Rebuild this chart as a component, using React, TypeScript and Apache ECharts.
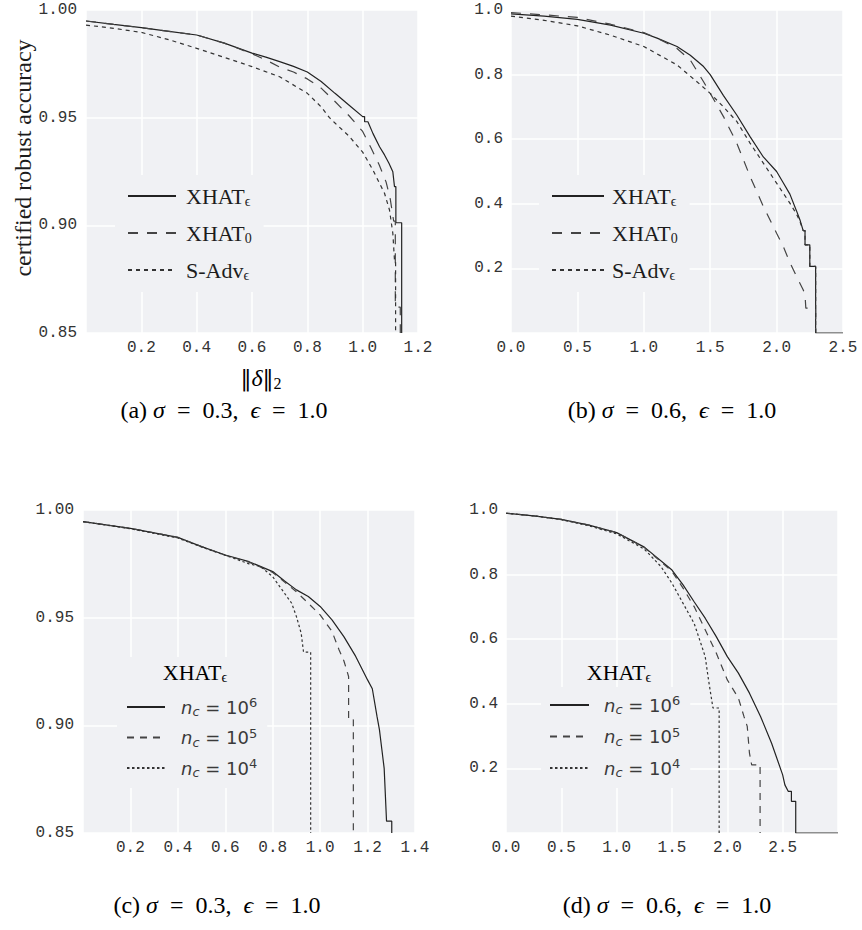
import React, { useEffect, useRef } from "react";
import * as echarts from "echarts";

const SERIF = '"Liberation Serif", "DejaVu Serif", serif';
const MONO = '"Liberation Mono", "DejaVu Sans Mono", monospace';
const SANS = '"DejaVu Sans", "Noto Sans", sans-serif';

// ---------- Panel (a): sigma = 0.3 ----------
const a_xhatEps: [number, number][] = [
  [0, 0.9949], [0.1, 0.9933], [0.2, 0.9918], [0.3, 0.9901], [0.4, 0.9884], [0.5, 0.9846],
  [0.6, 0.98], [0.65, 0.9781], [0.7, 0.976], [0.75, 0.9738], [0.8, 0.9712], [0.85, 0.9668],
  [0.9, 0.9613], [0.95, 0.9559], [1.0, 0.9505], [1.007, 0.9505], [1.007, 0.9481], [1.019, 0.9481],
  [1.037, 0.9427], [1.061, 0.9365], [1.079, 0.9327], [1.095, 0.9288], [1.109, 0.9249],
  [1.115, 0.918], [1.12, 0.918], [1.12, 0.9012], [1.141, 0.9012], [1.141, 0.85],
];
const a_xhat0: [number, number][] = [
  [0, 0.9949], [0.1, 0.9933], [0.2, 0.9918], [0.3, 0.9901], [0.4, 0.9884], [0.5, 0.9846],
  [0.6, 0.9797], [0.65, 0.9768], [0.7, 0.9735], [0.75, 0.9712], [0.8, 0.968], [0.85, 0.9637],
  [0.9, 0.9575], [0.95, 0.951], [1.0, 0.9436], [1.03, 0.936], [1.06, 0.928], [1.085, 0.92],
  [1.1, 0.912], [1.112, 0.902], [1.118, 0.902], [1.118, 0.862], [1.136, 0.862], [1.136, 0.85],
];
const a_sadvEps: [number, number][] = [
  [0, 0.993], [0.1, 0.9915], [0.2, 0.9896], [0.3, 0.9862], [0.4, 0.9822], [0.5, 0.978],
  [0.6, 0.9737], [0.7, 0.969], [0.8, 0.9613], [0.85, 0.955], [0.88, 0.95], [0.9, 0.9475],
  [0.95, 0.9415], [1.0, 0.934], [1.037, 0.9257], [1.061, 0.9195], [1.079, 0.9149],
  [1.097, 0.9071], [1.109, 0.8963], [1.115, 0.8839], [1.119, 0.8839], [1.119, 0.85],
];

// ---------- Panel (b): sigma = 0.6 ----------
const b_xhatEps: [number, number][] = [
  [0, 0.988], [0.25, 0.981], [0.5, 0.971], [0.75, 0.953], [1.0, 0.928], [1.1, 0.913],
  [1.25, 0.887], [1.35, 0.86], [1.45, 0.825], [1.5, 0.8], [1.6, 0.735], [1.7, 0.675],
  [1.8, 0.608], [1.9, 0.545], [2.0, 0.5], [2.05, 0.465], [2.1, 0.43], [2.15, 0.378],
  [2.176, 0.35], [2.2, 0.317], [2.214, 0.317], [2.214, 0.273], [2.25, 0.273], [2.25, 0.206],
  [2.294, 0.206], [2.294, 0], [2.5, 0],
];
const b_xhat0: [number, number][] = [
  [0, 0.992], [0.25, 0.985], [0.5, 0.977], [0.75, 0.956], [1.0, 0.93], [1.1, 0.913],
  [1.25, 0.881], [1.35, 0.845], [1.45, 0.778], [1.5, 0.742], [1.6, 0.67], [1.7, 0.588],
  [1.8, 0.485], [1.9, 0.392], [2.0, 0.309], [2.05, 0.268], [2.1, 0.218], [2.15, 0.175],
  [2.2, 0.134], [2.214, 0.12], [2.22, 0.077], [2.294, 0.077], [2.294, 0],
];
const b_sadvEps: [number, number][] = [
  [0, 0.981], [0.25, 0.968], [0.5, 0.951], [0.75, 0.922], [1.0, 0.887], [1.25, 0.83],
  [1.4, 0.778], [1.5, 0.742], [1.6, 0.7], [1.7, 0.655], [1.8, 0.588], [1.9, 0.526],
  [2.0, 0.464], [2.1, 0.402], [2.15, 0.368], [2.176, 0.345], [2.2, 0.317], [2.214, 0.317],
  [2.214, 0.273], [2.25, 0.273], [2.25, 0.206], [2.294, 0.206], [2.294, 0],
];

// ---------- Panel (c): sigma = 0.3, different n_c ----------
const c_nc6: [number, number][] = [
  [0, 0.9946], [0.2, 0.9915], [0.4, 0.9873], [0.5, 0.983], [0.6, 0.9791], [0.7, 0.976],
  [0.8, 0.9714], [0.85, 0.967], [0.9, 0.9629], [0.95, 0.9598], [1.0, 0.9552], [1.05, 0.949],
  [1.1, 0.9412], [1.15, 0.932], [1.2, 0.9211], [1.22, 0.917], [1.24, 0.904], [1.25, 0.898],
  [1.26, 0.889], [1.27, 0.88], [1.28, 0.8555], [1.302, 0.8555], [1.302, 0.85],
];
const c_nc5: [number, number][] = [
  [0, 0.9946], [0.2, 0.9915], [0.4, 0.9873], [0.5, 0.983], [0.6, 0.979], [0.7, 0.9758],
  [0.8, 0.971], [0.85, 0.9665], [0.9, 0.962], [0.95, 0.9567], [1.0, 0.9513], [1.05, 0.9436],
  [1.08, 0.935], [1.1, 0.93], [1.12, 0.9227], [1.12, 0.9026], [1.14, 0.9026], [1.14, 0.85],
];
const c_nc4: [number, number][] = [
  [0, 0.9946], [0.2, 0.9913], [0.4, 0.987], [0.5, 0.9828], [0.6, 0.979], [0.7, 0.975],
  [0.75, 0.9737], [0.8, 0.969], [0.85, 0.9613], [0.88, 0.9567], [0.9, 0.9505], [0.92, 0.9428],
  [0.93, 0.934], [0.96, 0.934], [0.96, 0.85],
];

// ---------- Panel (d): sigma = 0.6, different n_c ----------
const d_nc6: [number, number][] = [
  [0, 0.99], [0.25, 0.982], [0.5, 0.971], [0.75, 0.953], [1.0, 0.93], [1.25, 0.885],
  [1.5, 0.814], [1.6, 0.768], [1.7, 0.716], [1.8, 0.665], [1.9, 0.608], [2.0, 0.546],
  [2.1, 0.495], [2.2, 0.433], [2.3, 0.361], [2.4, 0.278], [2.5, 0.18], [2.52, 0.149],
  [2.55, 0.129], [2.579, 0.129], [2.579, 0.098], [2.618, 0.098], [2.618, 0], [3.0, 0],
];
const d_nc5: [number, number][] = [
  [0, 0.99], [0.25, 0.982], [0.5, 0.971], [0.75, 0.953], [1.0, 0.93], [1.25, 0.884],
  [1.5, 0.81], [1.6, 0.758], [1.7, 0.701], [1.8, 0.629], [1.9, 0.557], [2.0, 0.474],
  [2.1, 0.418], [2.15, 0.361], [2.18, 0.33], [2.2, 0.247], [2.22, 0.211], [2.296, 0.211],
  [2.296, 0],
];
const d_nc4: [number, number][] = [
  [0, 0.99], [0.25, 0.982], [0.5, 0.97], [0.75, 0.951], [1.0, 0.926], [1.25, 0.879],
  [1.4, 0.825], [1.5, 0.773], [1.6, 0.711], [1.7, 0.649], [1.75, 0.598], [1.8, 0.546],
  [1.83, 0.474], [1.87, 0.387], [1.926, 0.387], [1.926, 0],
];

const topNames = ["XHATϵ", "XHAT0", "S-Advϵ"];
const bottomNames = ["n_c = 10^6", "n_c = 10^5", "n_c = 10^4"];
const captions = ["(a)", "(b)", "(c)", "(d)"];
const sigmas = ["0.3", "0.6", "0.3", "0.6"];

const PLOT_BG = "#f0f1f4";
const TEXT = "#1c1c1c";

export default function App() {
  const ref = useRef<HTMLDivElement>(null);
  useEffect(() => {
    const chart = echarts.init(ref.current!, null, { renderer: "svg" });

    const grids = [
      { left: 86, top: 10, width: 332, height: 323 },
      { left: 511, top: 10, width: 332, height: 323 },
      { left: 83, top: 510, width: 332, height: 323 },
      { left: 506, top: 510, width: 332, height: 323 },
    ].map((g) => ({ ...g, show: true, backgroundColor: PLOT_BG, borderWidth: 0, containLabel: false, outerBoundsMode: "none" }));

    const axisLabel = (digits: number, extra: any = {}) => ({
      fontFamily: MONO,
      fontSize: 16,
      color: "#333",
      margin: 7,
      formatter: (v: number) => v.toFixed(digits),
      ...extra,
    });
    const common = {
      type: "value",
      axisLine: { show: false },
      axisTick: { show: false },
      splitLine: { show: true, lineStyle: { color: "#ffffff", width: 1.5 } },
    };

    const xAxes = [
      { ...common, gridIndex: 0, min: 0, max: 1.2, interval: 0.2, axisLabel: axisLabel(1, { showMinLabel: false }) },
      { ...common, gridIndex: 1, min: 0, max: 2.5, interval: 0.5, axisLabel: axisLabel(1) },
      { ...common, gridIndex: 2, min: 0, max: 1.4, interval: 0.2, axisLabel: axisLabel(1, { showMinLabel: false }) },
      { ...common, gridIndex: 3, min: 0, max: 3, interval: 0.5, axisLabel: axisLabel(1, { showMaxLabel: false }) },
    ];
    const yAxes = [
      { ...common, gridIndex: 0, min: 0.85, max: 1.0, interval: 0.05, axisLabel: axisLabel(2, { margin: 9 }) },
      { ...common, gridIndex: 1, min: 0, max: 1.0, interval: 0.2, axisLabel: axisLabel(1, { showMinLabel: false, margin: 8 }) },
      { ...common, gridIndex: 2, min: 0.85, max: 1.0, interval: 0.05, axisLabel: axisLabel(2, { margin: 9 }) },
      { ...common, gridIndex: 3, min: 0, max: 1.0, interval: 0.2, axisLabel: axisLabel(1, { showMinLabel: false, margin: 8 }) },
    ];

    const mk = (name: string, data: [number, number][], idx: number, type: any, color: string) => ({
      type: "line",
      name,
      data,
      xAxisIndex: idx,
      yAxisIndex: idx,
      symbol: "none",
      showSymbol: false,
      silent: true,
      lineStyle: { color, width: 1.2, type },
      itemStyle: { color },
      emphasis: { disabled: true },
      z: 3,
    });

    const DASH_T = [10, 9];
    const DOT_T = [4, 4];
    const DASH_B = [7, 6];
    const DOT_B = [2.5, 2.5];

    const series = [
      mk(topNames[0], a_xhatEps, 0, "solid", "#222"),
      mk(topNames[1], a_xhat0, 0, DASH_T, "#444"),
      mk(topNames[2], a_sadvEps, 0, DOT_T, "#333"),
      mk(topNames[0], b_xhatEps, 1, "solid", "#222"),
      mk(topNames[1], b_xhat0, 1, DASH_T, "#444"),
      mk(topNames[2], b_sadvEps, 1, DOT_T, "#333"),
      mk(bottomNames[0], c_nc6, 2, "solid", "#222"),
      mk(bottomNames[1], c_nc5, 2, DASH_B, "#444"),
      mk(bottomNames[2], c_nc4, 2, DOT_B, "#333"),
      mk(bottomNames[0], d_nc6, 3, "solid", "#222"),
      mk(bottomNames[1], d_nc5, 3, DASH_B, "#444"),
      mk(bottomNames[2], d_nc4, 3, DOT_B, "#333"),
    ];

    const topFmt = (name: string) =>
      name === topNames[0] ? "{m|XHAT}{s|ϵ}" : name === topNames[1] ? "{m|XHAT}{s|0}" : "{m|S-Adv}{s|ϵ}";
    const bottomFmt = (name: string) => `{n|n}{c|c}{r| = 10}{p|${name.slice(-1)}}`;

    const topRich = (pad: number) => ({
      m: { fontFamily: SERIF, fontSize: 22, color: TEXT, lineHeight: 24, padding: [0, 0, 0, pad] },
      s: { fontFamily: SERIF, fontSize: 14, color: TEXT, lineHeight: 12, verticalAlign: "bottom" },
    });
    const bottomRich = (pad: number) => ({
      n: { fontFamily: SANS, fontStyle: "italic", fontSize: 18, color: "#3a3a3a", lineHeight: 22, padding: [0, 0, 0, pad] },
      c: { fontFamily: SANS, fontStyle: "italic", fontSize: 13, color: "#3a3a3a", lineHeight: 12, verticalAlign: "bottom" },
      r: { fontFamily: SANS, fontSize: 18, color: "#3a3a3a", lineHeight: 22 },
      p: { fontFamily: SANS, fontSize: 13, color: "#3a3a3a", lineHeight: 12, verticalAlign: "top" },
    });

    const legendBase = {
      orient: "vertical",
      selectedMode: false,
      backgroundColor: PLOT_BG,
      itemHeight: 14,
      itemStyle: { opacity: 0, borderWidth: 0 },
      z: 5,
    };

    const legends = [
      { ...legendBase, data: topNames, left: 115, top: 175, padding: [10, 12, 10, 12], itemWidth: 48, itemGap: 14, formatter: topFmt, textStyle: { rich: topRich(5) } },
      { ...legendBase, data: topNames, left: 539, top: 175, padding: [10, 12, 10, 12], itemWidth: 52, itemGap: 14, formatter: topFmt, textStyle: { rich: topRich(3) } },
      { ...legendBase, data: bottomNames, left: 117, top: 657, padding: [39, 10, 9, 9], itemWidth: 38, itemGap: 8.5, formatter: bottomFmt, textStyle: { rich: bottomRich(11) } },
      { ...legendBase, data: bottomNames, left: 541, top: 687, padding: [7, 10, 9, 8], itemWidth: 39, itemGap: 9.5, formatter: bottomFmt, textStyle: { rich: bottomRich(10) } },
    ];

    const capRich = {
      r: { fontFamily: SERIF, fontSize: 24, color: TEXT },
      i: { fontFamily: SERIF, fontStyle: "italic", fontSize: 24, color: TEXT },
    };
    const capText = (k: number) =>
      `{r|${captions[k]} }{i|σ}{r|\u2002=\u2002${sigmas[k]},\u2002}{i|ϵ}{r|\u2002=\u20021.0}`;
    const capPos = [
      [224, 410],
      [672, 410],
      [217, 905],
      [667, 905],
    ];

    const graphic: any[] = capPos.map((p, k) => ({
      type: "text",
      x: p[0],
      y: p[1],
      z: 100,
      silent: true,
      style: { text: capText(k), rich: capRich, align: "center", verticalAlign: "middle" },
    }));
    graphic.push({
      type: "text",
      x: 23,
      y: 158,
      rotation: Math.PI / 2,
      z: 100,
      silent: true,
      style: { text: "certified robust accuracy", fontFamily: SERIF, fontSize: 24, fill: TEXT, align: "center", verticalAlign: "middle" },
    });
    graphic.push({
      type: "text",
      x: 261,
      y: 378,
      z: 100,
      silent: true,
      style: {
        text: "{b|‖}{i|δ}{b|‖}{s|2}",
        rich: {
          b: { fontFamily: '"DejaVu Serif", "DejaVu Sans", serif', fontSize: 22, color: "#333", lineHeight: 26 },
          i: { fontFamily: SERIF, fontStyle: "italic", fontSize: 24, color: TEXT, lineHeight: 26 },
          s: { fontFamily: SERIF, fontSize: 16, color: TEXT, lineHeight: 14, verticalAlign: "bottom" },
        },
        align: "center",
        verticalAlign: "middle",
      },
    });
    const titleRich = {
      m: { fontFamily: SERIF, fontSize: 22, color: TEXT, lineHeight: 24 },
      s: { fontFamily: SERIF, fontSize: 14, color: TEXT, lineHeight: 12, verticalAlign: "bottom" },
    };
    [
      [195, 672],
      [619, 672],
    ].forEach((p) =>
      graphic.push({
        type: "text",
        x: p[0],
        y: p[1],
        z: 100,
        silent: true,
        style: { text: "{m|XHAT}{s|ϵ}", rich: titleRich, align: "center", verticalAlign: "middle" },
      })
    );

    chart.setOption({
      animation: false,
      backgroundColor: "#ffffff",
      grid: grids,
      xAxis: xAxes,
      yAxis: yAxes,
      legend: legends,
      series,
      graphic,
    });
    return () => chart.dispose();
  }, []);
  return (
    <div
      ref={ref}
      style={{ position: "absolute", left: 0, top: 0, width: 862, height: 930, background: "#fff" }}
    />
  );
}
